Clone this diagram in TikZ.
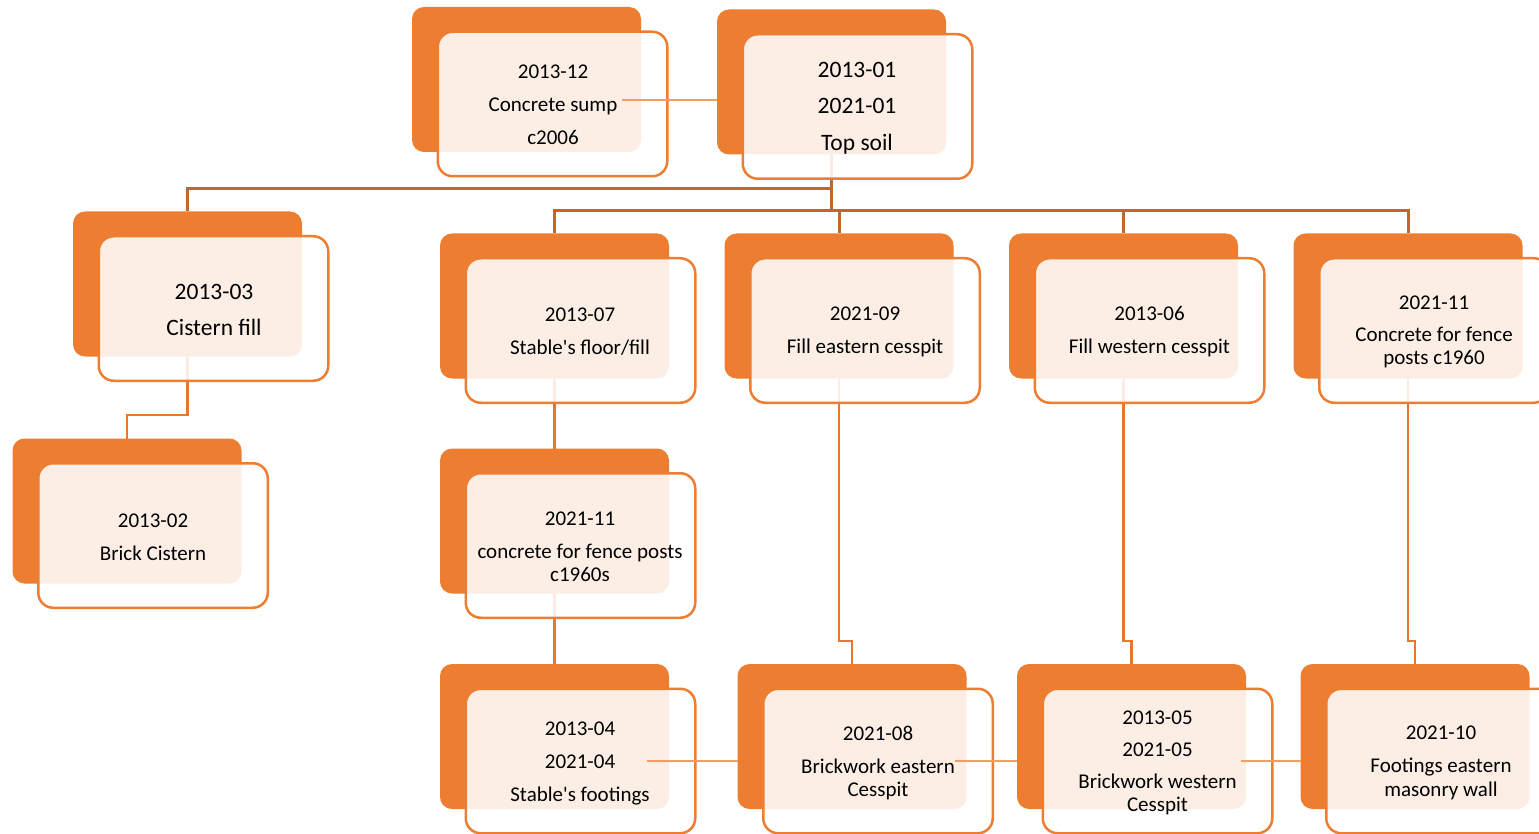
\documentclass[tikz,border=0pt]{standalone}
\usepackage{fontspec}
\setmainfont{Carlito}
\definecolor{orng}{RGB}{237,125,49}
\definecolor{treec}{RGB}{197,101,40}
\definecolor{linkc}{RGB}{230,120,50}
\definecolor{lightc}{RGB}{242,158,102}
\begin{document}
\begin{tikzpicture}[x=1pt,y=-1pt,
  backbox/.style={rectangle, fill=orng, rounded corners=12pt, minimum width=229pt, minimum height=145pt, inner sep=0pt, outer sep=0pt},
  frontbox/.style={rectangle, draw=orng, line width=2.5pt, fill=white, fill opacity=0.87, draw opacity=1, rounded corners=15pt, minimum width=229.5pt, minimum height=144.5pt, inner sep=0pt, outer sep=0pt},
  txt/.style={align=center, inner sep=0pt, text=black, font=\fontsize{21}{23.5}\selectfont},
  bigtxt/.style={align=center, inner sep=0pt, text=black, font=\fontsize{23.5}{28}\selectfont},
  treeline/.style={draw=treec, line width=3pt},
  linkline/.style={draw=linkc, line width=2.8pt},
  lightline/.style={draw=lightc, line width=1.6pt}]
\useasboundingbox (0,0) rectangle (1539,834);
\fill[white] (0,0) rectangle (1539,834);
\clip (0,0) rectangle (1539,834);

% back boxes
\node[backbox] (b1) at (526.5,79.5) {};
\node[backbox] (b2) at (831.5,82) {};
\node[backbox] (b3) at (187.5,284) {};
\node[backbox] (b4) at (127,511) {};
\node[backbox] (b5) at (554.5,306) {};
\node[backbox] (b6) at (839,306) {};
\node[backbox] (b7) at (1123.5,306) {};
\node[backbox] (b8) at (1408,306) {};
\node[backbox] (b9) at (554.5,521) {};
\node[backbox] (b10) at (554.5,736.5) {};
\node[backbox] (b11) at (852,736.5) {};
\node[backbox] (b12) at (1131.5,736.5) {};
\node[backbox] (b13) at (1415,736.5) {};

% junction levels
\coordinate (j1) at (0,189);
\coordinate (j2) at (0,211);
\coordinate (j3) at (0,415);
\coordinate (j4) at (0,641);

% tree connectors
\draw[treeline] (b2.south) -- (b2.south |- j1) -| (b3.north);
\draw[treeline] (b2.south) -- (b2.south |- j2);
\draw[treeline] (b2.south |- j2) -| (b5.north);
\draw[treeline] (b2.south |- j2) -| (b6.north);
\draw[treeline] (b2.south |- j2) -| (b7.north);
\draw[treeline] (b2.south |- j2) -| (b8.north);
\draw[linkline] (b3.south) -- (b3.south |- j3) -| (b4.north);
\draw[linkline] (b5.south) -- (b9.north);
\draw[linkline] (b9.south) -- (b10.north);
\draw[linkline] (b6.south) -- (b6.south |- j4) -| (b11.north);
\draw[linkline] (b7.south) -- (b7.south |- j4) -| (b12.north);
\draw[linkline] (b8.south) -- (b8.south |- j4) -| (b13.north);

% front boxes
\node[frontbox] (f1) at (552.5,104) {};
\node[frontbox] (f2) at (857.5,106.5) {};
\node[frontbox] (f3) at (213.5,308.5) {};
\node[frontbox] (f4) at (153,535.5) {};
\node[frontbox] (f5) at (580.5,330.5) {};
\node[frontbox] (f6) at (865,330.5) {};
\node[frontbox] (f7) at (1149.5,330.5) {};
\node[frontbox] (f8) at (1434,330.5) {};
\node[frontbox] (f9) at (580.5,545.5) {};
\node[frontbox] (f10) at (580.5,761) {};
\node[frontbox] (f11) at (878,761) {};
\node[frontbox] (f12) at (1157.5,761) {};
\node[frontbox] (f13) at (1441,761) {};

% light side links
\coordinate (s1) at (622,100);
\coordinate (s2) at (647,761);
\coordinate (s3) at (955,761);
\coordinate (s4) at (1241,761);
\draw[lightline] (s1) -- (s1 -| b2.west);
\draw[lightline] (s2) -- (s2 -| b11.west);
\draw[lightline] (s3) -- (s3 -| b12.west);
\draw[lightline] (s4) -- (s4 -| b13.west);

% texts
\node[txt] (t1) at (553,104.5) {2013-12\\[9.5pt]Concrete sump\\[9.5pt]c2006};
\node[bigtxt] (t2) at (857,108) {2013-01\\[8.5pt]2021-01\\[8.5pt]Top soil};
\node[bigtxt] (t3) at (214,309.5) {2013-03\\[8pt]Cistern fill};
\node[txt] (t4) at (153,537) {2013-02\\[9.5pt]Brick Cistern};
\node[txt] (t5) at (580,331.5) {2013-07\\[9.5pt]Stable\textquotesingle s floor/fill};
\node[txt] (t6) at (865,331.5) {2021-09\\[9.5pt]Fill eastern cesspit};
\node[txt] (t7) at (1149.5,331.5) {2013-06\\[9.5pt]Fill western cesspit};
\node[txt] (t8) at (1434,332) {2021-11\\[8.5pt]Concrete for fence\\posts c1960};
\node[txt] (t9) at (580,547) {2021-11\\[9.5pt]concrete for fence posts\\c1960s};
\node[txt] (t10) at (580,763) {2013-04\\[9.5pt]2021-04\\[9.5pt]Stable\textquotesingle s footings};
\node[txt] (t11) at (878,763) {2021-08\\[9.5pt]Brickwork eastern\\Cesspit};
\node[txt] (t12) at (1157.5,763) {2013-05\\[8.5pt]2021-05\\[8.5pt]Brickwork western\\Cesspit};
\node[txt] (t13) at (1441,763) {2021-10\\[9.5pt]Footings eastern\\masonry wall};
\end{tikzpicture}
\end{document}
